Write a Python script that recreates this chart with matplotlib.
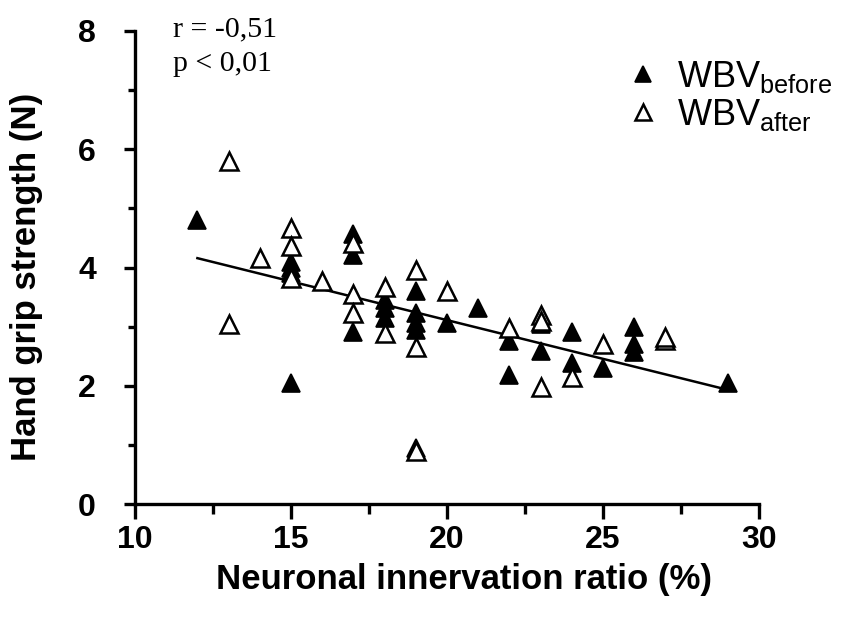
import matplotlib
matplotlib.use("Agg")
import matplotlib.pyplot as plt
from matplotlib.ticker import MultipleLocator

# ---- data ----
before_x = [12, 15, 15, 15, 15, 17, 17, 17, 18, 18, 18, 19, 19, 19, 19, 19,
            20, 21, 22, 22, 23, 23, 24, 24, 25, 26, 26, 26, 29]
before_y = [4.80, 4.10, 4.00, 3.90, 2.05, 4.57, 4.21, 2.91, 3.45, 3.32, 3.15,
            3.61, 3.23, 3.06, 2.94, 0.95, 3.06, 3.31, 2.75, 2.18, 3.05, 2.58,
            2.91, 2.38, 2.30, 3.00, 2.71, 2.57, 2.04]

after_x = [13, 13, 14, 15, 15, 15, 16, 17, 17, 17, 18, 18, 19, 19, 19, 20,
           22, 23, 23, 23, 24, 25, 27, 27]
after_y = [5.80, 3.05, 4.16, 4.67, 4.37, 3.82, 3.77, 4.42, 3.55, 3.23, 3.67,
           2.89, 3.95, 2.66, 0.90, 3.60, 2.98, 3.20, 3.10, 1.98, 2.15, 2.71,
           2.77, 2.82]

# regression line: y = intercept + slope * x
fit_x = [12, 29]
fit_intercept = 5.73
fit_slope = -0.131

x_ticks = [10, 15, 20, 25, 30]
y_ticks = [0, 2, 4, 6, 8]
stats_text = ["r = -0,51", "p < 0,01"]
legend_labels = [r"WBV$_{\mathrm{before}}$", r"WBV$_{\mathrm{after}}$"]

axis_family = ['Liberation Sans', 'DejaVu Sans']
tick_size, label_size = 23, 25

plt.rcParams['mathtext.fontset'] = 'custom'
plt.rcParams['mathtext.rm'] = 'Liberation Sans'
plt.rcParams['font.family'] = ['Liberation Sans', 'DejaVu Sans']

fig = plt.figure(figsize=(8.53, 6.18), dpi=100)
ax = fig.add_axes([135/853, 1-504/618, (759-135)/853, (504-31)/618])

ax.plot(before_x, before_y, linestyle='none', marker='^', markersize=13,
        markerfacecolor='black', markeredgecolor='black', markeredgewidth=1.2,
        label=legend_labels[0], zorder=3)
ax.plot(after_x, after_y, linestyle='none', marker='^', markersize=13,
        markerfacecolor='white', markeredgecolor='black', markeredgewidth=1.8,
        label=legend_labels[1], zorder=3)

fy = [fit_intercept + fit_slope * v for v in fit_x]
ax.plot(fit_x, fy, color='black', linewidth=1.8, zorder=2)

ax.set_xlim(10, 30)
ax.set_ylim(0, 8)
ax.set_xticks(x_ticks)
ax.set_yticks(y_ticks)
ax.xaxis.set_minor_locator(MultipleLocator(2.5))
ax.yaxis.set_minor_locator(MultipleLocator(1))

for s in ['top', 'right']:
    ax.spines[s].set_visible(False)
for s in ['left', 'bottom']:
    ax.spines[s].set_linewidth(2.4)

ax.tick_params(axis='x', which='major', length=11, width=2.4, pad=4,
               labelsize=tick_size)
ax.tick_params(axis='x', which='minor', length=7, width=2.4)
ax.tick_params(axis='y', which='major', length=8, width=2.4, pad=20,
               labelsize=tick_size)
ax.tick_params(axis='y', which='minor', length=5, width=2.4)
for lab in ax.get_xticklabels() + ax.get_yticklabels():
    lab.set_fontweight('bold')
    lab.set_family(axis_family)

ax.set_xlabel("Neuronal innervation ratio (%)", fontsize=label_size,
              fontweight='bold', family=axis_family)
ax.set_ylabel("Hand grip strength (N)", fontsize=label_size,
              fontweight='bold', family=axis_family)
ax.xaxis.set_label_coords(0.528, -0.125)
ax.yaxis.set_label_coords(-0.148, 0.48)

fig.text(173/853, 1-36/618, stats_text[0], fontsize=21.5,
         family='Liberation Serif', va='baseline')
fig.text(173/853, 1-71/618, stats_text[1], fontsize=21.5,
         family='Liberation Serif', va='baseline')

leg = ax.legend(loc='upper right', bbox_to_anchor=(1.17, 1.01), frameon=False,
                fontsize=26, handlelength=1.0, handletextpad=0.45,
                labelspacing=0.05, markerscale=0.85)

fig.savefig("out.png", dpi=100)
